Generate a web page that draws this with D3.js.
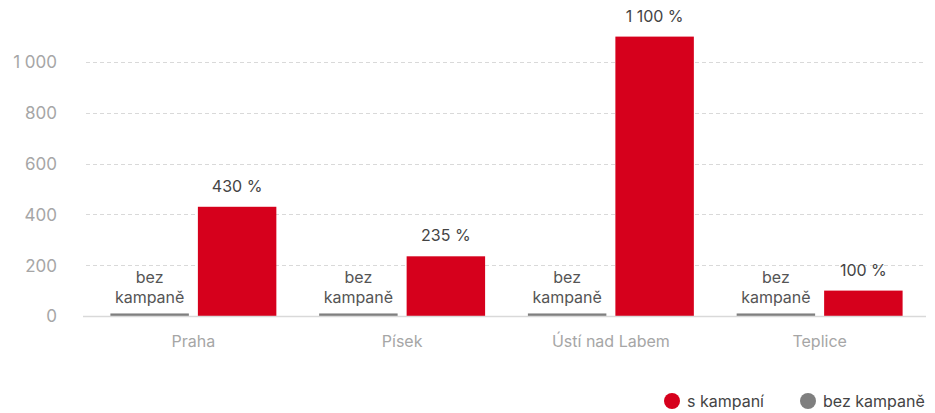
<!DOCTYPE html>
<html>
<head>
<meta charset="utf-8">
<script src="https://cdn.jsdelivr.net/npm/d3@7"></script>
<style>
    body { margin: 0; background: #fff; }
    svg text { font-family: Inter, Roboto, "Noto Sans", sans-serif; }
    .grid line { stroke: #d9d9d9; stroke-dasharray: 4 3; }
    .yaxis text { fill: #a6a6a6; font-size: 17px; }
    .xaxis text { fill: #a6a6a6; font-size: 16px; }
    .value { fill: #444; font-size: 16px; }
    .note { fill: #555; font-size: 16px; }
    .legend text { fill: #444; font-size: 16px; }
</style>
</head>
<body>
<svg id="chart" width="935" height="413"></svg>
<script>
"use strict";

const CATEGORIES = ["Praha", "Písek", "Ústí nad Labem", "Teplice"];
const WITH_CAMPAIGN = [430, 235, 1100, 100];
const WITHOUT_CAMPAIGN = [10, 10, 10, 10];
const VALUE_LABELS = ["430 %", "235 %", "1\u00A0100 %", "100 %"];
const Y_TICKS = [0, 200, 400, 600, 800, 1000];
const SERIES_NAMES = ["s kampaní", "bez kampaně"];

const RED = "#d6001c";
const GRAY = "#7f7f7f";

const svg = d3.select("#chart");

const y = d3.scaleLinear().domain([0, 1000]).range([316, 62]);
const x = d3.scaleBand().domain(CATEGORIES).range([89, 924]).paddingInner(0.205).paddingOuter(0.1025);
const xInner = d3.scaleBand().domain(["without", "with"]).range([0, x.bandwidth()]).paddingInner(0.103);

// Grid lines (dashed), skipping zero - the baseline is drawn separately.
svg.append("g")
    .attr("class", "grid")
    .selectAll("line")
    .data(Y_TICKS.filter(function (d) { return d > 0; }))
    .join("line")
    .attr("x1", 86)
    .attr("x2", 926)
    .attr("y1", function (d) { return Math.round(y(d)) + 0.5; })
    .attr("y2", function (d) { return Math.round(y(d)) + 0.5; });

// Y axis labels, thousands separated by a space.
const fmt = function (d) {
    return d3.format(",")(d).replace(/,/g, "\u00A0");
};
const yAxis = svg.append("g")
    .attr("class", "yaxis")
    .attr("transform", "translate(57,0)")
    .call(d3.axisLeft(y).tickValues(Y_TICKS).tickFormat(fmt).tickSize(0).tickPadding(0));
yAxis.select(".domain").remove();
yAxis.selectAll("text").attr("dy", "0.35em");

// Bars.
const groups = svg.append("g")
    .selectAll("g")
    .data(CATEGORIES)
    .join("g")
    .attr("transform", function (d) { return "translate(" + x(d) + ",0)"; });

groups.append("rect")
    .attr("x", xInner("without"))
    .attr("width", xInner.bandwidth())
    .attr("y", function (d, i) { return y(WITHOUT_CAMPAIGN[i]); })
    .attr("height", function (d, i) { return y(0) - y(WITHOUT_CAMPAIGN[i]); })
    .attr("fill", GRAY);

groups.append("rect")
    .attr("x", xInner("with"))
    .attr("width", xInner.bandwidth())
    .attr("y", function (d, i) { return y(WITH_CAMPAIGN[i]); })
    .attr("height", function (d, i) { return y(0) - y(WITH_CAMPAIGN[i]); })
    .attr("fill", RED);

// Value labels above the red bars.
groups.append("text")
    .attr("class", "value")
    .attr("x", xInner("with") + xInner.bandwidth() / 2)
    .attr("y", function (d, i) { return y(WITH_CAMPAIGN[i]) - 15; })
    .attr("text-anchor", "middle")
    .text(function (d, i) { return VALUE_LABELS[i]; });

// "bez kampaně" note above the grey bars.
const note = groups.append("text")
    .attr("class", "note")
    .attr("text-anchor", "middle");
note.append("tspan")
    .attr("x", xInner("without") + xInner.bandwidth() / 2)
    .attr("y", function (d, i) { return y(WITHOUT_CAMPAIGN[i]) - 30; })
    .text("bez");
note.append("tspan")
    .attr("x", xInner("without") + xInner.bandwidth() / 2)
    .attr("y", function (d, i) { return y(WITHOUT_CAMPAIGN[i]) - 10; })
    .text("kampaně");

// Baseline.
svg.append("line")
    .attr("x1", 83)
    .attr("x2", 926)
    .attr("y1", y(0) + 0.5)
    .attr("y2", y(0) + 0.5)
    .attr("stroke", "#d9d9d9")
    .attr("stroke-width", 1.5);

// Category labels.
const xAxis = svg.append("g")
    .attr("class", "xaxis")
    .attr("transform", "translate(0," + y(0) + ")")
    .call(d3.axisBottom(x).tickSize(0).tickPadding(0));
xAxis.select(".domain").remove();
xAxis.selectAll("text").attr("dy", "1.95em");

// Legend.
const legendX = [672, 808];
const legend = svg.append("g")
    .attr("class", "legend")
    .selectAll("g")
    .data(SERIES_NAMES)
    .join("g")
    .attr("transform", function (d, i) { return "translate(" + legendX[i] + ",401)"; });
legend.append("circle")
    .attr("r", 8)
    .attr("fill", function (d, i) { return i === 0 ? RED : GRAY; });
legend.append("text")
    .attr("x", 15)
    .attr("dy", "0.35em")
    .text(function (d) { return d; });
</script>
</body>
</html>
